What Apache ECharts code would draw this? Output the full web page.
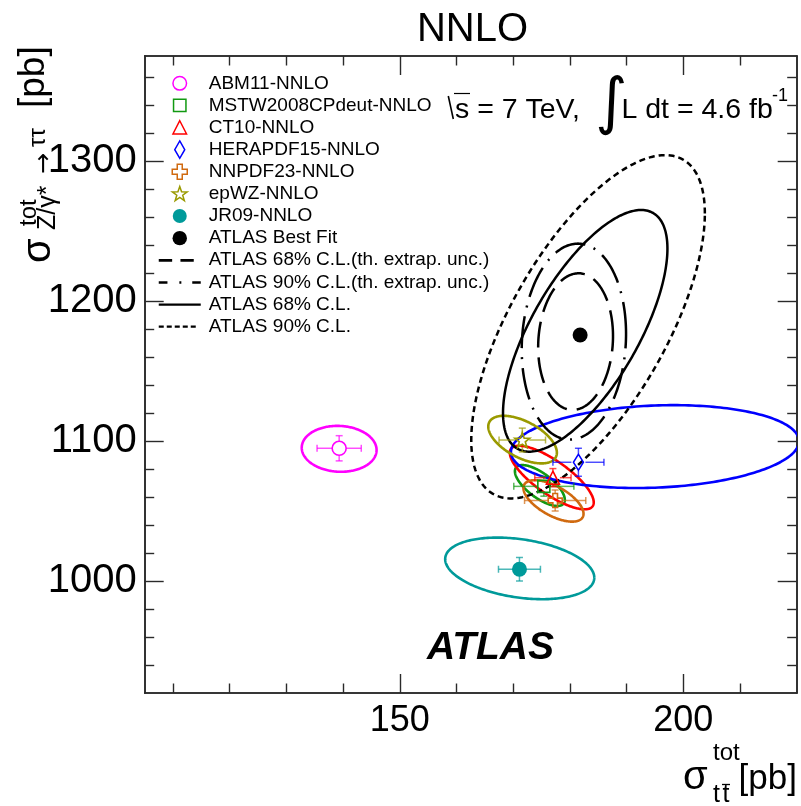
<!DOCTYPE html>
<html>
<head>
<meta charset="utf-8">
<script src="https://cdn.jsdelivr.net/npm/echarts@6/dist/echarts.min.js"></script>
<style>
  html, body { margin: 0; padding: 0; background: #ffffff; }
  #chart { width: 801px; height: 806px; }
</style>
</head>
<body>
<div id="chart"></div>
<script>
// ---- PDF predictions: sigma(ttbar) vs sigma(Z/gamma* -> tautau), NNLO ----
const pdfNames = ['ABM11-NNLO', 'MSTW2008CPdeut-NNLO', 'CT10-NNLO', 'HERAPDF15-NNLO',
                  'NNPDF23-NNLO', 'epWZ-NNLO', 'JR09-NNLO'];
const pdfTtbar      = [139.3, 175.4, 177.0, 181.5, 177.4, 171.6, 171.1];
const pdfTtbarErr   = [3.9, 5.3, 3.2, 4.5, 5.4, 4.1, 3.7];
const pdfZtautau    = [1094.8, 1067.6, 1073.8, 1084.8, 1057.5, 1100.7, 1008.4];
const pdfZtautauErr = [9.0, 7.0, 6.5, 10.0, 7.5, 8.5, 8.4];

// PDF uncertainty contours: centre, half extent in x and y, correlation
const pdfEllCx  = [139.3, 174.7, 176.8, 195.0, 177.1, 171.65, 171.15];
const pdfEllCy  = [1094.4, 1068.2, 1073.9, 1096.0, 1057.2, 1101.0, 1009.0];
const pdfEllSx  = [6.6, 4.4, 7.4, 25.4, 5.3, 6.05, 13.15];
const pdfEllSy  = [16.4, 14.6, 22.7, 29.6, 14.8, 17.0, 22.0];
const pdfEllRho = [-0.05, -0.7, -0.78, 0.13, -0.62, -0.55, -0.3];

// ---- ATLAS measurement ----
const atlasBestFitName = 'ATLAS Best Fit';
const atlasBestFit = [181.8, 1175.7];
const atlasContourNames = ['ATLAS 68% C.L.(th. extrap. unc.)', 'ATLAS 90% C.L.(th. extrap. unc.)',
                           'ATLAS 68% C.L.', 'ATLAS 90% C.L.'];
const atlasCx  = [181.0, 180.7, 182.7, 183.2];
const atlasCy  = [1171.0, 1171.0, 1178.7, 1181.6];
const atlasSx  = [6.6, 9.2, 14.5, 20.6];
const atlasSy  = [48.8, 70.0, 86.3, 122.6];
const atlasRho = [0.08, 0.08, 0.68, 0.66];

// ---- axes ----
const xRange = [105, 220];
const yRange = [920, 1375];
const xTicksMajor = [150, 200];
const xTicksMinor = [110, 120, 130, 140, 160, 170, 180, 190, 210];
const yTicksMajor = [1000, 1100, 1200, 1300];
const yTicksMinor = [940, 960, 980, 1020, 1040, 1060, 1080, 1120, 1140, 1160, 1180,
                     1220, 1240, 1260, 1280, 1320, 1340, 1360];

// ---- styling ----
const FONT = '"Liberation Sans", Arial, Helvetica, sans-serif';
const AXIS_COLOR = '#2a2a2a';
const pdfColors = ['#ff00ff', '#119911', '#ff0000', '#0000ff', '#d06a10', '#9a9a00', '#009a9a'];
const pdfFilled = [false, false, false, false, false, false, true];
const STAR = 'path://M10,0L12.35,6.76L19.51,6.91L13.8,11.24L15.88,18.09L10,14L4.12,18.09L6.2,11.24L0.49,6.91L7.65,6.76Z';
const PLUS = 'path://M5,0h5v5h5v5h-5v5h-5v-5h-5v-5h5z';
const pdfSymbols = ['circle', 'rect', 'triangle', 'diamond', PLUS, STAR, 'circle'];
const pdfSymbolSizes = [14, 12, 13, [10, 16], 14, 15, 15];
const atlasDash = [[26, 10], [32, 9, 2, 9], null, [6, 4]];

// legend icons (42 x 18 boxes)
const BOX = 'path://M0,0M42,18';
const legendIcons = {
  'ABM11-NNLO': BOX + 'M27.8,9A6.8,6.8,0,1,1,14.2,9A6.8,6.8,0,1,1,27.8,9Z',
  'MSTW2008CPdeut-NNLO': BOX + 'M14.8,2.8h12.4v12.4h-12.4z',
  'CT10-NNLO': BOX + 'M21,2.2L27.8,15.4L14.2,15.4Z',
  'HERAPDF15-NNLO': BOX + 'M21,0.3L26,9L21,17.7L16,9Z',
  'NNPDF23-NNLO': BOX + 'M18.5,1.5h5v5h5v5h-5v5h-5v-5h-5v-5h5z',
  'epWZ-NNLO': BOX + 'M21,1.6L22.82,6.89L28.42,6.99L23.95,10.36L25.58,15.71L21,12.5L16.42,15.71L18.05,10.36L13.58,6.99L19.18,6.89Z',
  'JR09-NNLO': BOX + 'M28,9A7,7,0,1,1,14,9A7,7,0,1,1,28,9Z',
  'ATLAS Best Fit': BOX + 'M28.2,9A7.2,7.2,0,1,1,13.8,9A7.2,7.2,0,1,1,28.2,9Z',
  'ATLAS 68% C.L.(th. extrap. unc.)': BOX + 'M0,7.8h13.4v2.6h-13.4zM21.7,7.8h13.3v2.6h-13.3z',
  'ATLAS 90% C.L.(th. extrap. unc.)': BOX + 'M0,7.8h8.7v2.6h-8.7zM20.6,7.8h2v2.6h-2zM33.5,7.8h8.5v2.6h-8.5z',
  'ATLAS 68% C.L.': BOX + 'M0,7.9h42v2.4h-42z',
  'ATLAS 90% C.L.': BOX + 'M0,8h5v2.2h-5zM8,8h5v2.2h-5zM16,8h5v2.2h-5zM24,8h5v2.2h-5zM32,8h5v2.2h-5z'
};

// outline of a correlated uncertainty ellipse, mapped through the chart axes
function ellipsePoints(api, cx, cy, sx, sy, rho) {
  const k = Math.sqrt(1 - rho * rho);
  const pts = [];
  const n = 240;
  for (let i = 0; i <= n; i++) {
    const t = (i / n) * 2 * Math.PI;
    const c = Math.cos(t), s = Math.sin(t);
    pts.push(api.coord([cx + sx * c, cy + sy * (rho * c + k * s)]));
  }
  return pts;
}

function pdfEllipseItem(params, api) {
  const i = params.dataIndex;
  return {
    type: 'polyline',
    shape: { points: ellipsePoints(api, api.value(0), api.value(1), api.value(2), api.value(3), api.value(4)) },
    style: { fill: null, stroke: pdfColors[i], lineWidth: 2.6 }
  };
}

function atlasEllipseRender(idx) {
  return function (params, api) {
    return {
      type: 'polyline',
      shape: { points: ellipsePoints(api, api.value(0), api.value(1), api.value(2), api.value(3), api.value(4)) },
      style: { fill: null, stroke: '#000', lineWidth: 2.5, lineDash: atlasDash[idx] }
    };
  };
}

function errorBarItem(params, api) {
  const i = params.dataIndex;
  const x = api.value(0), y = api.value(1), ex = api.value(2), ey = api.value(3);
  const c = api.coord([x, y]);
  const l = api.coord([x - ex, y])[0], r = api.coord([x + ex, y])[0];
  const t = api.coord([x, y + ey])[1], b = api.coord([x, y - ey])[1];
  const gx = pdfFilled[i] ? 0 : 7;
  const gy = pdfFilled[i] ? 0 : (i === 3 ? 8.5 : 7);
  const cap = 3.5;
  const style = { stroke: pdfColors[i], lineWidth: 1.5, opacity: 0.7 };
  const segs = [
    [l, c[1], c[0] - gx, c[1]], [c[0] + gx, c[1], r, c[1]],
    [c[0], t, c[0], c[1] - gy], [c[0], c[1] + gy, c[0], b],
    [l, c[1] - cap, l, c[1] + cap], [r, c[1] - cap, r, c[1] + cap],
    [c[0] - cap, t, c[0] + cap, t], [c[0] - cap, b, c[0] + cap, b]
  ];
  return {
    type: 'group',
    children: segs.map(p => ({ type: 'line', shape: { x1: p[0], y1: p[1], x2: p[2], y2: p[3] }, style: style }))
  };
}

// ---- series ----
const series = [];
series.push({
  type: 'custom', name: 'PDF contours', renderItem: pdfEllipseItem, clip: true, z: 2, silent: true,
  encode: { x: 0, y: 1 },
  data: pdfNames.map((n, i) => [pdfEllCx[i], pdfEllCy[i], pdfEllSx[i], pdfEllSy[i], pdfEllRho[i]])
});
atlasContourNames.forEach((n, i) => {
  series.push({
    type: 'custom', name: n, renderItem: atlasEllipseRender(i), clip: true, z: 3, silent: true,
    encode: { x: 0, y: 1 },
    itemStyle: { color: '#000' },
    data: [[atlasCx[i], atlasCy[i], atlasSx[i], atlasSy[i], atlasRho[i]]]
  });
});
series.push({
  type: 'custom', name: 'PDF errors', renderItem: errorBarItem, clip: true, z: 4, silent: true,
  encode: { x: 0, y: 1 },
  data: pdfNames.map((n, i) => [pdfTtbar[i], pdfZtautau[i], pdfTtbarErr[i], pdfZtautauErr[i]])
});
pdfNames.forEach((n, i) => {
  series.push({
    type: 'scatter', name: n, z: 5, silent: true,
    symbol: pdfSymbols[i], symbolSize: pdfSymbolSizes[i],
    itemStyle: pdfFilled[i]
      ? { color: pdfColors[i], borderWidth: 0, opacity: 1 }
      : { color: 'rgba(255,255,255,0)', borderColor: pdfColors[i], borderWidth: 1.6, opacity: 1 },
    data: [[pdfTtbar[i], pdfZtautau[i]]]
  });
});
series.push({
  type: 'scatter', name: atlasBestFitName, z: 6, silent: true,
  symbol: 'circle', symbolSize: 15,
  itemStyle: { color: '#000', borderWidth: 0, opacity: 1 },
  data: [atlasBestFit]
});

// ---- legend ----
const legendNames = pdfNames.concat([atlasBestFitName], atlasContourNames);
const legendData = legendNames.map((n, i) => {
  let st;
  if (i < pdfNames.length) {
    st = pdfFilled[i]
      ? { color: pdfColors[i], borderColor: pdfColors[i], borderWidth: 0 }
      : { color: 'rgba(255,255,255,0)', borderColor: pdfColors[i], borderWidth: 1.5 };
  } else {
    st = { color: '#000', borderColor: '#000', borderWidth: 0 };
  }
  return { name: n, icon: legendIcons[n], itemStyle: st };
});

// ---- axes (frame with inward ticks on all four sides) ----
function plain(v) { return String(v); }
function xAxisDef(pos, ticks, len, labels) {
  return {
    type: 'value', position: pos, min: xRange[0], max: xRange[1], gridIndex: 0,
    axisLine: { show: true, onZero: false, lineStyle: { color: AXIS_COLOR, width: 1.6 } },
    axisTick: { show: true, inside: true, length: len, customValues: ticks, lineStyle: { color: AXIS_COLOR, width: 1.4 } },
    axisLabel: labels
      ? { show: true, customValues: ticks, formatter: plain, margin: 10, fontSize: 36, fontFamily: FONT, color: '#000' }
      : { show: false },
    splitLine: { show: false }
  };
}
function yAxisDef(pos, ticks, len, labels) {
  return {
    type: 'value', position: pos, min: yRange[0], max: yRange[1], gridIndex: 0,
    axisLine: { show: true, onZero: false, lineStyle: { color: AXIS_COLOR, width: 1.6 } },
    axisTick: { show: true, inside: true, length: len, customValues: ticks, lineStyle: { color: AXIS_COLOR, width: 1.4 } },
    axisLabel: labels
      ? { show: true, customValues: ticks, formatter: plain, margin: 8, fontSize: 40, fontFamily: FONT, color: '#000' }
      : { show: false },
    splitLine: { show: false }
  };
}

// ---- annotations ----
function txt(x, y, text, size, extra) {
  return Object.assign({
    type: 'text', x: x, y: y, silent: true, z: 10,
    style: Object.assign({
      text: text, fontSize: size, fontFamily: FONT, fill: '#000',
      align: 'left', verticalAlign: 'middle', textAlign: 'left', textVerticalAlign: 'middle'
    }, (extra && extra.style) || {})
  }, extra && extra.rotation !== undefined ? { rotation: extra.rotation } : {});
}
const ROT = Math.PI / 2;
const graphics = [
  // title
  txt(472.5, 30, 'NNLO', 40, { style: { align: 'center', textAlign: 'center' } }),
  // energy and luminosity
  { type: 'line', silent: true, z: 10, shape: { x1: 448.3, y1: 96, x2: 453.3, y2: 119 }, style: { stroke: '#000', lineWidth: 1.6 } },
  { type: 'line', silent: true, z: 10, shape: { x1: 454, y1: 93.5, x2: 470, y2: 93.5 }, style: { stroke: '#000', lineWidth: 1.2 } },
  txt(455, 110, 's = 7 TeV,', 28.5),
  txt(595, 106, '\u222B', 62, { style: { fontFamily: '"DejaVu Sans", sans-serif' } }),
  txt(621.5, 110, 'L dt = 4.6 fb', 28.5),
  txt(772, 96, '-1', 18),
  // ATLAS label
  txt(490.5, 648, 'ATLAS', 39, { style: { align: 'center', textAlign: 'center', fontWeight: 'bold', fontStyle: 'italic' } }),
  // x axis title
  txt(683, 778, '\u03C3', 40),
  txt(713, 753, 'tot', 24),
  txt(713, 795, 't', 25),
  txt(722.5, 795, 't', 25),
  { type: 'line', silent: true, z: 10, shape: { x1: 722, y1: 784.5, x2: 730, y2: 784.5 }, style: { stroke: '#000', lineWidth: 1.3 } },
  txt(797, 779, '[pb]', 35, { style: { align: 'right', textAlign: 'right' } }),
  // y axis title (rotated, reading upwards)
  txt(39, 263, '\u03C3', 40, { rotation: ROT }),
  txt(29, 226, 'tot', 24, { rotation: ROT }),
  txt(48, 230, 'Z/\u03B3*', 25, { rotation: ROT }),
  txt(44, 174, '\u2192', 25, { rotation: ROT, style: { fontFamily: '"DejaVu Sans", sans-serif' } }),
  txt(38, 147, '\u03C4\u03C4', 24, { rotation: ROT }),
  txt(34, 108, '[pb]', 37, { rotation: ROT })
];

const option = {
  backgroundColor: '#ffffff',
  animation: false,
  grid: { left: 144.7, right: 4.3, top: 56, bottom: 113, containLabel: false },
  xAxis: [
    xAxisDef('bottom', xTicksMajor, 19, true),
    xAxisDef('bottom', xTicksMinor, 9.5, false),
    xAxisDef('top', xTicksMajor, 19, false),
    xAxisDef('top', xTicksMinor, 9.5, false)
  ],
  yAxis: [
    yAxisDef('left', yTicksMajor, 19, true),
    yAxisDef('left', yTicksMinor, 9.5, false),
    yAxisDef('right', yTicksMajor, 19, false),
    yAxisDef('right', yTicksMinor, 9.5, false)
  ],
  legend: {
    orient: 'vertical', left: 158, top: 72.3, padding: 0,
    itemWidth: 42, itemHeight: 18, itemGap: 0.12, symbolKeepAspect: true,
    selectedMode: false,
    textStyle: { fontSize: 19, fontFamily: FONT, color: '#000', lineHeight: 22, padding: [0, 0, 0, 3] },
    data: legendData
  },
  series: series,
  graphic: graphics
};

const chart = echarts.init(document.getElementById('chart'), null, { renderer: 'canvas' });
chart.setOption(option);
</script>
</body>
</html>
